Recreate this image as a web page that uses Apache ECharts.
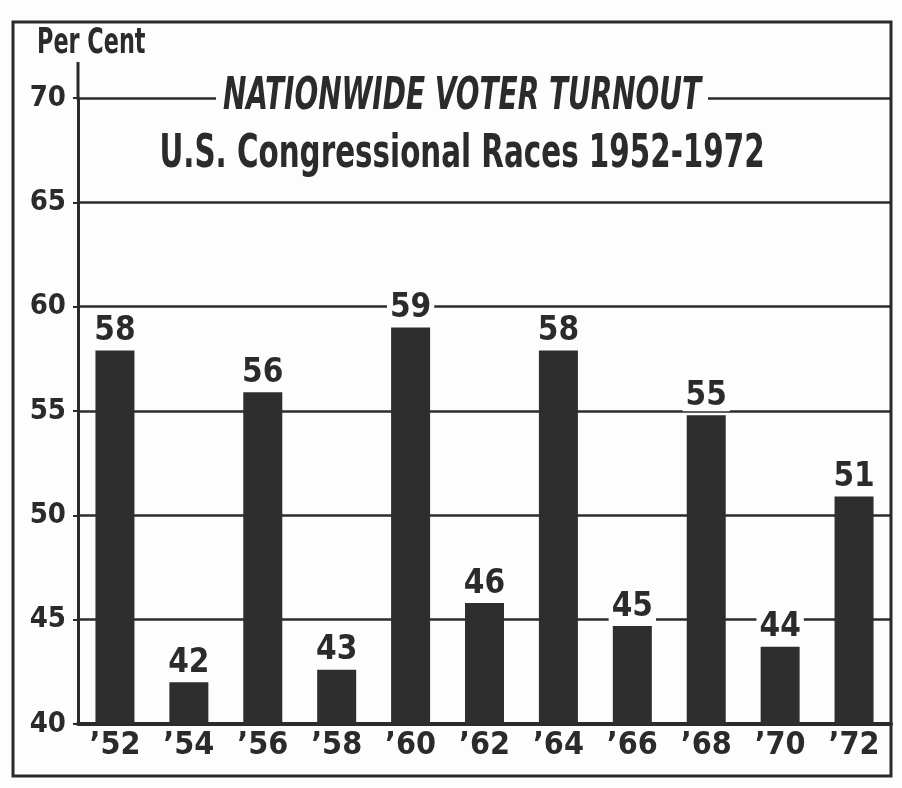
<!DOCTYPE html>
<html>
<head>
<meta charset="utf-8">
<script src="https://cdn.jsdelivr.net/npm/echarts@6/dist/echarts.min.js"></script>
<style>
html,body{margin:0;padding:0;background:#fff;}
#chart{width:902px;height:788px;}
</style>
</head>
<body>
<div id="chart"></div>
<script>
const categories = ["’52","’54","’56","’58","’60","’62","’64","’66","’68","’70","’72"];
const turnout = [57.9, 42.0, 55.9, 42.6, 59.0, 45.8, 57.9, 44.7, 54.8, 43.7, 50.9];
const barLabels = ["58","42","56","43","59","46","58","45","55","44","51"];
const yTicks = [40, 45, 50, 55, 60, 65, 70];
const titleText = "NATIONWIDE VOTER TURNOUT";
const subtitleText = "U.S. Congressional Races 1952-1972";
const axisName = "Per Cent";

const FONT = '"Liberation Sans Narrow","Arial Narrow","DejaVu Sans Condensed",sans-serif';
const INK = '#2b2b2b';
const BG = '#fdfdfd';

const chart = echarts.init(document.getElementById('chart'));
chart.setOption({
  backgroundColor: BG,
  animation: false,
  graphic: [{
    type: 'rect', z: 0,
    shape: {x: 13, y: 22, width: 878, height: 754},
    style: {fill: 'none', stroke: INK, lineWidth: 3}
  }, {
    type: 'line', z: 0,
    shape: {x1: 78, y1: 62, x2: 78, y2: 100},
    style: {stroke: INK, lineWidth: 3}
  }, {
    type: 'text', z: 100,
    x: 462, y: 97, scaleX: 0.69,
    style: {
      text: titleText, align: 'center', verticalAlign: 'middle',
      font: 'italic bold 45px "DejaVu Sans Condensed", sans-serif',
      fill: INK, backgroundColor: BG, padding: [0, 10]
    }
  }, {
    type: 'text', z: 100,
    x: 462, y: 155, scaleX: 0.71,
    style: {
      text: subtitleText, align: 'center', verticalAlign: 'middle',
      font: 'bold 46px "DejaVu Sans Condensed", sans-serif',
      fill: INK
    }
  }, {
    type: 'text', z: 100,
    x: 37, y: 26, scaleX: 0.71,
    style: {
      text: axisName, align: 'left', verticalAlign: 'top',
      font: 'bold 35px "DejaVu Sans Condensed", sans-serif',
      fill: INK
    }
  }],
  grid: {left: 78, right: 11, top: 98, bottom: 64, containLabel: false},
  xAxis: {
    type: 'category',
    data: categories,
    axisLine: {lineStyle: {color: INK, width: 4}},
    axisTick: {show: false},
    axisLabel: {interval: 0, fontFamily: FONT, fontSize: 32, fontWeight: 'bold', color: INK, margin: 6}
  },
  yAxis: {
    type: 'value',
    min: 40, max: 70, interval: 5,
    axisLine: {show: true, lineStyle: {color: INK, width: 3}},
    axisTick: {show: true, length: 5, lineStyle: {color: INK, width: 2}},
    axisLabel: {
      fontFamily: FONT, fontSize: 29, fontWeight: 'bold', color: INK, margin: 12,
      formatter: v => yTicks.includes(v) ? String(v) : ''
    },
    splitLine: {show: true, lineStyle: {color: INK, width: 2.5}}
  },
  series: [{
    type: 'bar',
    data: turnout,
    barWidth: 39,
    itemStyle: {color: '#2e2e2e'},
    label: {
      show: true, position: 'top', distance: 4,
      formatter: p => barLabels[p.dataIndex],
      fontFamily: FONT, fontSize: 33, fontWeight: 'bold', color: INK,
      backgroundColor: BG, padding: [0, 3], lineHeight: 30
    }
  }]
});
</script>
</body>
</html>
